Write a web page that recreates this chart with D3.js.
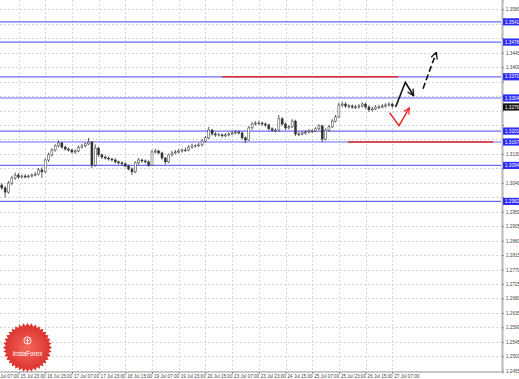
<!DOCTYPE html>
<html>
<head>
<meta charset="utf-8">
<script src="https://cdn.jsdelivr.net/npm/d3@7"></script>
<style>
  body { margin: 0; background: #fff; }
  svg { display: block; font-family: "Liberation Sans", Arial, sans-serif; }
</style>
</head>
<body>
<svg id="chart"></svg>
<script>
// chart size
const W = 519, H = 379;
const plotRight = 501, plotBottom = 372;

// price axis labels (right side)
const priceTicks = [1.3580, 1.3535, 1.3490, 1.3445, 1.3400, 1.3355, 1.3310, 1.3265, 1.3220,
  1.3175, 1.3130, 1.3085, 1.3040, 1.2995, 1.2950, 1.2905, 1.2860, 1.2815, 1.2770, 1.2725,
  1.2680, 1.2635, 1.2590, 1.2545, 1.2500, 1.2455];

// time axis labels, one every 8 bars
const timeLabels = ["13 Jul 07:00", "15 Jul 23:00", "16 Jul 15:00", "17 Jul 07:00", "17 Jul 23:00",
  "18 Jul 15:00", "19 Jul 07:00", "19 Jul 23:00", "20 Jul 15:00", "23 Jul 07:00", "23 Jul 23:00",
  "24 Jul 15:00", "25 Jul 07:00", "25 Jul 23:00", "26 Jul 15:00", "27 Jul 07:00"];
const barsPerLabel = 8;

// candles (first one sits at bar index 2)
const firstBar = 2;
const firstOpen = 1.3040;
const closes = [1.3033, 1.3024, 1.3011, 1.3039, 1.3055, 1.3064, 1.3058, 1.3061, 1.3058, 1.3061,
  1.3064, 1.3067, 1.3080, 1.3074, 1.3111, 1.3127, 1.3142, 1.3155, 1.3164, 1.3151,
  1.3145, 1.3142, 1.3136, 1.3139, 1.3151, 1.3155, 1.3161, 1.3167, 1.3095, 1.3148,
  1.3127, 1.3120, 1.3117, 1.3114, 1.3111, 1.3105, 1.3102, 1.3099, 1.3092, 1.3083,
  1.3074, 1.3102, 1.3111, 1.3108, 1.3105, 1.3095, 1.3136, 1.3139, 1.3133, 1.3117,
  1.3105, 1.3127, 1.3133, 1.3136, 1.3139, 1.3142, 1.3142, 1.3151, 1.3155, 1.3155,
  1.3158, 1.3170, 1.3180, 1.3204, 1.3192, 1.3189, 1.3189, 1.3186, 1.3189, 1.3192,
  1.3195, 1.3198, 1.3195, 1.3180, 1.3173, 1.3211, 1.3223, 1.3226, 1.3226, 1.3223,
  1.3220, 1.3208, 1.3204, 1.3204, 1.3239, 1.3223, 1.3211, 1.3214, 1.3232, 1.3192,
  1.3192, 1.3195, 1.3198, 1.3201, 1.3201, 1.3208, 1.3217, 1.3176, 1.3204, 1.3214,
  1.3232, 1.3245, 1.3282, 1.3285, 1.3279, 1.3279, 1.3276, 1.3276, 1.3279, 1.3285,
  1.3276, 1.3267, 1.3270, 1.3276, 1.3276, 1.3279, 1.3282, 1.3285, 1.3279];
const highs = [1.3046, 1.3038, 1.3030, 1.3045, 1.3062, 1.3072, 1.3070, 1.3066, 1.3067, 1.3065,
  1.3069, 1.3073, 1.3086, 1.3088, 1.3116, 1.3134, 1.3148, 1.3160, 1.3172, 1.3168,
  1.3156, 1.3150, 1.3146, 1.3144, 1.3156, 1.3161, 1.3165, 1.3180, 1.3170, 1.3160,
  1.3152, 1.3131, 1.3125, 1.3122, 1.3118, 1.3116, 1.3109, 1.3107, 1.3104, 1.3097,
  1.3088, 1.3107, 1.3117, 1.3115, 1.3113, 1.3110, 1.3142, 1.3146, 1.3143, 1.3137,
  1.3121, 1.3131, 1.3139, 1.3142, 1.3145, 1.3147, 1.3149, 1.3157, 1.3162, 1.3160,
  1.3164, 1.3176, 1.3186, 1.3214, 1.3208, 1.3197, 1.3195, 1.3194, 1.3195, 1.3197,
  1.3201, 1.3204, 1.3203, 1.3199, 1.3184, 1.3216, 1.3229, 1.3232, 1.3233, 1.3231,
  1.3228, 1.3224, 1.3213, 1.3210, 1.3251, 1.3245, 1.3228, 1.3220, 1.3238, 1.3236,
  1.3199, 1.3201, 1.3204, 1.3207, 1.3206, 1.3213, 1.3222, 1.3221, 1.3209, 1.3220,
  1.3238, 1.3251, 1.3289, 1.3293, 1.3291, 1.3285, 1.3284, 1.3283, 1.3285, 1.3291,
  1.3290, 1.3281, 1.3277, 1.3282, 1.3283, 1.3285, 1.3288, 1.3291, 1.3290];
const lows = [1.3026, 1.3018, 1.2995, 1.3006, 1.3033, 1.3049, 1.3052, 1.3053, 1.3054, 1.3055,
  1.3057, 1.3060, 1.3063, 1.3055, 1.3070, 1.3105, 1.3121, 1.3137, 1.3150, 1.3146,
  1.3140, 1.3137, 1.3131, 1.3130, 1.3135, 1.3147, 1.3150, 1.3157, 1.3086, 1.3090,
  1.3121, 1.3114, 1.3112, 1.3109, 1.3106, 1.3100, 1.3097, 1.3094, 1.3088, 1.3078,
  1.3064, 1.3070, 1.3096, 1.3102, 1.3099, 1.3090, 1.3092, 1.3131, 1.3128, 1.3112,
  1.3097, 1.3101, 1.3122, 1.3128, 1.3131, 1.3134, 1.3136, 1.3138, 1.3146, 1.3149,
  1.3151, 1.3153, 1.3165, 1.3176, 1.3187, 1.3183, 1.3184, 1.3181, 1.3182, 1.3185,
  1.3188, 1.3191, 1.3190, 1.3175, 1.3164, 1.3170, 1.3206, 1.3218, 1.3220, 1.3217,
  1.3214, 1.3203, 1.3198, 1.3197, 1.3200, 1.3217, 1.3205, 1.3206, 1.3210, 1.3186,
  1.3185, 1.3188, 1.3190, 1.3193, 1.3195, 1.3197, 1.3204, 1.3167, 1.3172, 1.3199,
  1.3210, 1.3228, 1.3241, 1.3276, 1.3273, 1.3272, 1.3270, 1.3270, 1.3271, 1.3274,
  1.3270, 1.3261, 1.3262, 1.3266, 1.3270, 1.3272, 1.3274, 1.3277, 1.3273];

// horizontal levels (blue) and their labels
const levels = [1.3541, 1.3478, 1.3370, 1.3304, 1.3201, 1.3167, 1.3094, 1.2982];
const lastPrice = 1.3276;

// red target lines: price, start bar, end bar
const redPrices = [1.3370, 1.3167];
const redStart = [69, 106.7];
const redEnd = [121.7, 150.2];

// forecast arrows as [bar, price]
const mainArrow = [[121.0, 1.3276], [123.9, 1.3353], [126.4, 1.3311]];
const dashArrow = [[129.2, 1.3333], [133.2, 1.3446]];
const redArrow = [[119.2, 1.3258], [122.0, 1.3218], [125.1, 1.3273]];

const svg = d3.select("#chart").attr("width", W).attr("height", H);

const x = d3.scaleLinear().domain([0, 120]).range([-8.2, 392.3]);
const y = d3.scaleLinear().domain([1.2451, 1.3609]).range([plotBottom, 0]);

const defs = svg.append("defs");
defs.append("clipPath").attr("id", "plot")
  .append("rect").attr("x", 0).attr("y", 0).attr("width", plotRight).attr("height", plotBottom);

const tickIdx = timeLabels.map((d, i) => i * barsPerLabel);

// grid
const grid = svg.append("g").attr("clip-path", "url(#plot)");
grid.selectAll("line.h").data(priceTicks).enter().append("line")
  .attr("x1", 0).attr("x2", plotRight)
  .attr("y1", d => Math.round(y(d)) + 0.5).attr("y2", d => Math.round(y(d)) + 0.5)
  .attr("stroke", "#d6d6d6").attr("stroke-dasharray", "2,2").attr("stroke-width", 1);
grid.selectAll("line.v").data(tickIdx).enter().append("line")
  .attr("x1", d => Math.round(x(d)) + 0.5).attr("x2", d => Math.round(x(d)) + 0.5)
  .attr("y1", 0).attr("y2", plotBottom)
  .attr("stroke", "#d6d6d6").attr("stroke-dasharray", "2,2").attr("stroke-width", 1);

const plot = svg.append("g").attr("clip-path", "url(#plot)");

// blue levels
plot.selectAll("line.level").data(levels).enter().append("line")
  .attr("x1", 0).attr("x2", plotRight)
  .attr("y1", d => y(d)).attr("y2", d => y(d))
  .attr("stroke", "#6b6bf2").attr("stroke-width", 1.2);

// red lines
plot.selectAll("line.red").data(redPrices).enter().append("line")
  .attr("x1", (d, i) => x(redStart[i])).attr("x2", (d, i) => x(redEnd[i]))
  .attr("y1", d => y(d)).attr("y2", d => y(d))
  .attr("stroke", "#e8282b").attr("stroke-width", 1.6);

// candles
const bars = closes.map((c, i) => ({
  i: firstBar + i,
  o: i === 0 ? firstOpen : closes[i - 1],
  c: c, h: highs[i], l: lows[i]
}));
const candle = plot.selectAll("g.candle").data(bars).enter().append("g");
candle.append("line")
  .attr("x1", d => x(d.i)).attr("x2", d => x(d.i))
  .attr("y1", d => y(d.h)).attr("y2", d => y(d.l))
  .attr("stroke", "#333").attr("stroke-width", 0.8);
candle.append("rect")
  .attr("x", d => x(d.i) - 1).attr("width", 2)
  .attr("y", d => y(Math.max(d.o, d.c)))
  .attr("height", d => Math.max(0.8, Math.abs(y(d.o) - y(d.c))))
  .attr("fill", d => d.c >= d.o ? "#fff" : "#333")
  .attr("stroke", "#333").attr("stroke-width", 0.5);

// arrows
const arrowLine = d3.line().x(d => x(d[0])).y(d => y(d[1]));
function head(color, id) {
  defs.append("marker").attr("id", id)
    .attr("viewBox", "0 0 10 10").attr("refX", 9).attr("refY", 5)
    .attr("markerWidth", 5).attr("markerHeight", 5).attr("orient", "auto")
    .append("path").attr("d", "M1,1 L9,5 L1,9")
    .attr("fill", "none").attr("stroke", color).attr("stroke-width", 1.6);
}
head("#111", "hb");
head("#e8282b", "hr");
svg.append("path").attr("d", arrowLine(mainArrow))
  .attr("fill", "none").attr("stroke", "#111").attr("stroke-width", 1.6)
  .attr("marker-end", "url(#hb)");
svg.append("path").attr("d", arrowLine(dashArrow))
  .attr("fill", "none").attr("stroke", "#111").attr("stroke-width", 1.6)
  .attr("stroke-dasharray", "6,3").attr("marker-end", "url(#hb)");
svg.append("path").attr("d", arrowLine(redArrow))
  .attr("fill", "none").attr("stroke", "#e8282b").attr("stroke-width", 1.5)
  .attr("marker-end", "url(#hr)");

// right price axis (labels hidden where a level box sits on top of them)
const boxed = levels.concat([lastPrice]);
const yAxis = d3.axisRight(y).tickValues(priceTicks).tickFormat(d3.format(".4f")).tickSize(2).tickPadding(2);
const ya = svg.append("g").attr("transform", `translate(${plotRight + 1},0)`).call(yAxis);
ya.select(".domain").attr("stroke", "#b8b8b8").attr("stroke-width", 2);
ya.selectAll(".tick line").attr("stroke", "#888");
ya.selectAll("text").attr("font-size", 4.6).attr("fill", "#444")
  .style("display", d => boxed.some(b => Math.abs(y(b) - y(d)) < 7.5) ? "none" : null);

// level labels (blue boxes) and current price box
const boxes = svg.append("g");
boxes.selectAll("rect.lv").data(levels).enter().append("rect")
  .attr("x", plotRight + 2).attr("y", d => y(d) - 3.6).attr("width", 17).attr("height", 7.2)
  .attr("fill", "#2d2df5");
boxes.selectAll("text.lv").data(levels).enter().append("text")
  .attr("x", plotRight + 4).attr("y", d => y(d) + 1.7)
  .attr("font-size", 4.6).attr("fill", "#fff").text(d => d3.format(".4f")(d));
boxes.append("rect").attr("x", plotRight + 2).attr("y", y(lastPrice) - 3.6)
  .attr("width", 17).attr("height", 7.2).attr("fill", "#111");
boxes.append("text").attr("x", plotRight + 4).attr("y", y(lastPrice) + 1.7)
  .attr("font-size", 4.6).attr("fill", "#fff").text(d3.format(".4f")(lastPrice));

// bottom time axis
const xAxis = d3.axisBottom(x).tickValues(tickIdx).tickFormat((d, i) => timeLabels[i]).tickSize(2).tickPadding(1);
const xa = svg.append("g").attr("transform", `translate(0,${plotBottom})`).call(xAxis);
xa.select(".domain").attr("d", `M0,0H${plotRight + 2}`).attr("stroke", "#b8b8b8").attr("stroke-width", 1.5);
xa.selectAll(".tick line").attr("stroke", "#888");
xa.selectAll("text").attr("font-size", 4.6).attr("fill", "#444")
  .attr("text-anchor", "start").attr("dx", 1.5);

// InstaForex badge
const grad = defs.append("radialGradient").attr("id", "logo");
grad.append("stop").attr("offset", "0%").attr("stop-color", "#f6675d");
grad.append("stop").attr("offset", "100%").attr("stop-color", "#d9302b");
const teeth = 36;
const pts = d3.range(teeth * 2).map(k => [k * Math.PI / teeth, k % 2 ? 21.6 : 24.5]);
const logo = svg.append("g").attr("transform", "translate(27.5,347.5)");
logo.append("path").attr("d", d3.lineRadial().curve(d3.curveLinearClosed)(pts))
  .attr("fill", "url(#logo)");
logo.append("circle").attr("cx", 0).attr("cy", -7).attr("r", 3.6)
  .attr("fill", "none").attr("stroke", "#fff").attr("stroke-width", 0.9);
logo.append("path").attr("d", "M0,-9.5 V-3.6 M-2,-8 L0,-6 L2,-8")
  .attr("fill", "none").attr("stroke", "#fff").attr("stroke-width", 0.9);
logo.append("text").attr("x", 0).attr("y", 8.5).attr("text-anchor", "middle")
  .attr("font-size", 6.3).attr("fill", "#fff").text("InstaForex");
</script>
</body>
</html>
